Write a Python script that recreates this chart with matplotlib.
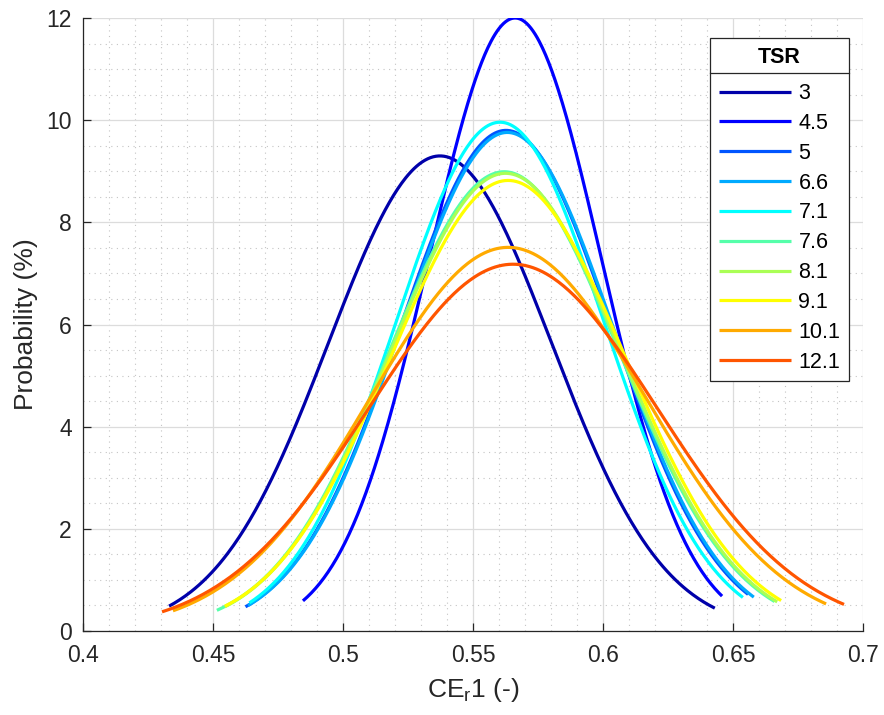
import numpy as np
import matplotlib
matplotlib.use('Agg')
import matplotlib.pyplot as plt
from matplotlib.ticker import MultipleLocator
from matplotlib.lines import Line2D

plt.rcParams['font.family'] = ['Liberation Sans', 'DejaVu Sans']

# ---- data (fitted normal distributions) ----
tsr_labels = ['3', '4.5', '5', '6.6', '7.1', '7.6', '8.1', '9.1', '10.1', '12.1']
means = [0.5373, 0.5662, 0.5627, 0.5632, 0.5604, 0.5620, 0.5625, 0.5635, 0.5635, 0.5654]
peaks = [9.30, 12.00, 9.80, 9.76, 9.96, 8.99, 8.96, 8.82, 7.51, 7.18]
x_start = [0.4331, 0.4846, 0.4625, 0.4635, 0.4640, 0.4515, 0.4545, 0.4546, 0.4346, 0.4304]
x_end = [0.6430, 0.6458, 0.6558, 0.6580, 0.6538, 0.6660, 0.6670, 0.6685, 0.6858, 0.6927]
colors = [(0, 0, 0.6667), (0, 0, 1), (0, 0.3333, 1), (0, 0.6667, 1), (0, 1, 1),
          (0.3333, 1, 0.6667), (0.6667, 1, 0.3333), (1, 1, 0), (1, 0.6667, 0), (1, 0.3333, 0)]

fig = plt.figure(figsize=(8.84, 7.15), dpi=100)
ax = fig.add_axes([83/884, 1-631/715, 780/884, 613/715])

for lab, mu, pk, x0, x1, c in zip(tsr_labels, means, peaks, x_start, x_end, colors):
    sigma = 1.0 / (pk * np.sqrt(2 * np.pi))
    x = np.linspace(x0, x1, 400)
    y = np.exp(-0.5 * ((x - mu) / sigma) ** 2) / (sigma * np.sqrt(2 * np.pi))
    ax.plot(x, y, color=c, lw=2.3, label=lab, solid_capstyle='butt')

ax.set_xlim(0.4, 0.7)
ax.set_ylim(0, 12)
ax.xaxis.set_minor_locator(MultipleLocator(0.01))
ax.yaxis.set_major_locator(MultipleLocator(2))
ax.yaxis.set_minor_locator(MultipleLocator(0.5))
ax.set_xticks(np.arange(0.4, 0.701, 0.05))
ax.set_xticklabels(['0.4', '0.45', '0.5', '0.55', '0.6', '0.65', '0.7'])

ax.grid(True, which='major', color='#dcdcdc', lw=0.9, ls='-')
ax.grid(True, which='minor', color='#c4c4c4', lw=0.8, ls=(0, (1, 4)))
ax.set_axisbelow(True)

for s in ['top', 'right']:
    ax.spines[s].set_visible(False)
for s in ['left', 'bottom']:
    ax.spines[s].set_color('#262626')
    ax.spines[s].set_linewidth(0.9)

ax.tick_params(which='major', direction='in', length=6, width=0.9, colors='#262626',
               labelsize=16.5, labelcolor='#262626')
ax.tick_params(axis='x', pad=9)
ax.tick_params(axis='y', pad=8)
ax.tick_params(which='minor', length=0)

ax.set_xlabel('CE$_\\mathregular{r}$1 (-)', fontsize=19, color='#262626', labelpad=7)
ax.set_ylabel('Probability (%)', fontsize=19, color='#262626', labelpad=6)

leg = ax.legend(loc='upper left', bbox_to_anchor=(0.804, 0.967), fontsize=15.5,
                title='TSR', title_fontproperties={'weight': 'bold', 'size': 15.5},
                frameon=True, fancybox=False, framealpha=1, edgecolor='#262626',
                handlelength=3.35, handletextpad=0.35, labelspacing=0.41,
                borderpad=0.4, borderaxespad=0)
leg.get_frame().set_linewidth(0.9)
leg._legend_box.sep = 11

# separator under the legend title
fig.canvas.draw()
bb = leg.get_window_extent()
tb = leg.get_title().get_window_extent()
ysep = tb.y0 - 5
inv = fig.transFigure.inverted()
(xa, ya) = inv.transform((bb.x0, ysep))
(xb, _) = inv.transform((bb.x1, ysep))
fig.add_artist(Line2D([xa, xb], [ya, ya], color='#262626', lw=0.9, transform=fig.transFigure))

fig.savefig('out.png', dpi=100)
